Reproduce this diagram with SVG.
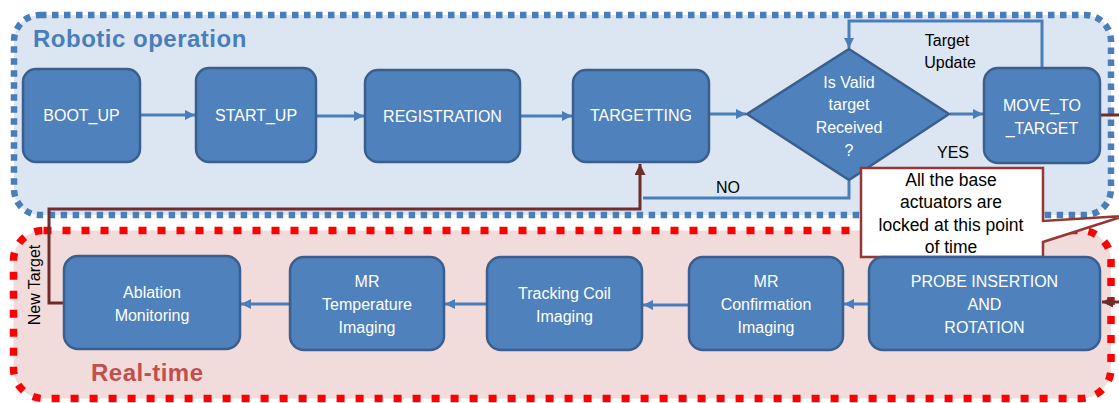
<svg xmlns="http://www.w3.org/2000/svg" width="1119" height="403" viewBox="0 0 1119 403">
<defs>
<style>
.node{fill:#4F81BD;stroke:#3A5F8C;stroke-width:2.5}
.nt{font-family:"Liberation Sans",Arial,sans-serif;font-size:16px;fill:#FFFFFF;text-anchor:middle}
.lbl{font-family:"Liberation Sans",Arial,sans-serif;font-size:16px;fill:#000000;text-anchor:middle}
.call{font-family:"Liberation Sans",Arial,sans-serif;font-size:17.5px;fill:#000000;text-anchor:middle}
.title{font-family:"Liberation Sans",Arial,sans-serif;font-size:24px;font-weight:bold;letter-spacing:0.5px}
.blue{fill:none;stroke:#4A7EBB;stroke-width:3}
.dred{fill:none;stroke:#6E2C2A;stroke-width:3}
</style>
<marker id="ab" viewBox="0 0 10 10" refX="10" refY="5" markerWidth="10" markerHeight="10" markerUnits="userSpaceOnUse" orient="auto">
<path d="M0,0 L10,5 L0,10 z" fill="#4A7EBB"/>
</marker>
<marker id="ar" viewBox="0 0 10 10" refX="10" refY="5" markerWidth="11" markerHeight="11" markerUnits="userSpaceOnUse" orient="auto">
<path d="M0,0 L10,5 L0,10 z" fill="#6E2C2A"/>
</marker>
</defs>
<rect width="1119" height="403" fill="#FFFFFF"/>
<g id="robotic-operation">
<rect x="14" y="15" width="1097" height="200" rx="26" fill="#DCE6F2" stroke="#4A7EBB" stroke-width="6.5" stroke-dasharray="6.5 5.5"/>
<text class="title" x="33" y="47" fill="#4A7EBB">Robotic operation</text>
</g>
<g id="real-time">
<rect x="13.5" y="230.5" width="1097.5" height="168" rx="30" fill="#F2DCDB" stroke="#FF0000" stroke-width="7.5" stroke-dasharray="8 11"/>
<text class="title" x="91" y="381" fill="#C0504D">Real-time</text>
</g>
<g id="connectors">
<line class="blue" x1="141" y1="115" x2="195" y2="115" marker-end="url(#ab)"/>
<line class="blue" x1="317" y1="116" x2="364" y2="116" marker-end="url(#ab)"/>
<line class="blue" x1="521" y1="116" x2="572" y2="116" marker-end="url(#ab)"/>
<line class="blue" x1="710" y1="114" x2="746" y2="114" marker-end="url(#ab)"/>
<line class="blue" x1="950" y1="114" x2="983" y2="114" marker-end="url(#ab)"/>
<path class="blue" d="M1042,67 V21 H849 V48" marker-end="url(#ab)"/>
<path class="blue" d="M849,181 V198 H643"/>
<path class="dred" d="M64,303 H49 V209 H640 V164" marker-end="url(#ar)"/>
<path class="dred" d="M1101,115 H1126 V302 H1102" marker-end="url(#ar)"/>
<line class="blue" x1="868" y1="304" x2="844" y2="304" marker-end="url(#ab)"/>
<line class="blue" x1="688" y1="305" x2="643" y2="305" marker-end="url(#ab)"/>
<line class="blue" x1="486" y1="304" x2="445" y2="304" marker-end="url(#ab)"/>
<line class="blue" x1="289" y1="304" x2="241" y2="304" marker-end="url(#ab)"/>
<text class="lbl" x="947" y="46">Target</text>
<text class="lbl" x="950" y="68">Update</text>
<text class="lbl" x="728" y="193">NO</text>
<text class="lbl" x="953" y="158">YES</text>
<text class="lbl" transform="translate(40,285) rotate(-90)">New Target</text>
</g>
<g id="boot-up">
<rect class="node" x="23" y="69" width="117" height="93" rx="13"/>
<text class="nt" x="81.5" y="121">BOOT_UP</text>
</g>
<g id="start-up">
<rect class="node" x="196" y="68" width="120" height="94" rx="13"/>
<text class="nt" x="256" y="121">START_UP</text>
</g>
<g id="registration">
<rect class="node" x="365" y="70" width="155" height="92" rx="13"/>
<text class="nt" x="442.5" y="122">REGISTRATION</text>
</g>
<g id="targetting">
<rect class="node" x="573" y="70" width="136" height="92" rx="13"/>
<text class="nt" x="641" y="121">TARGETTING</text>
</g>
<g id="valid-target">
<polygon class="node" points="849,49 949,114 849,180 747,114"/>
<text class="nt" x="849" y="88">Is Valid</text>
<text class="nt" x="849" y="110">target</text>
<text class="nt" x="849" y="133">Received</text>
<text class="nt" x="849" y="156">?</text>
</g>
<g id="move-to-target">
<rect class="node" x="984" y="68" width="116" height="95" rx="14"/>
<text class="nt" x="1042" y="111">MOVE_TO</text>
<text class="nt" x="1042" y="134">_TARGET</text>
</g>
<g id="callout">
<path d="M861,168 H1043 V221 L1124,216 L1043,242 V257 H861 Z" fill="#FFFFFF" stroke="#953735" stroke-width="2.5"/>
<text class="call" x="951" y="186">All the base</text>
<text class="call" x="951" y="208">actuators are</text>
<text class="call" x="951" y="231">locked at this point</text>
<text class="call" x="951" y="253">of time</text>
</g>
<g id="ablation-monitoring">
<rect class="node" x="64" y="256" width="176" height="93" rx="14"/>
<text class="nt" x="152" y="298">Ablation</text>
<text class="nt" x="152" y="321">Monitoring</text>
</g>
<g id="mr-temperature">
<rect class="node" x="290" y="257" width="154" height="93" rx="14"/>
<text class="nt" x="367" y="287">MR</text>
<text class="nt" x="367" y="310">Temperature</text>
<text class="nt" x="367" y="333">Imaging</text>
</g>
<g id="tracking-coil">
<rect class="node" x="487" y="257" width="155" height="93" rx="14"/>
<text class="nt" x="564.5" y="299">Tracking Coil</text>
<text class="nt" x="564.5" y="322">Imaging</text>
</g>
<g id="mr-confirmation">
<rect class="node" x="689" y="257" width="154" height="93" rx="14"/>
<text class="nt" x="766" y="287">MR</text>
<text class="nt" x="766" y="310">Confirmation</text>
<text class="nt" x="766" y="333">Imaging</text>
</g>
<g id="probe-insertion">
<rect class="node" x="869" y="257" width="231" height="93" rx="14"/>
<text class="nt" x="984.5" y="287">PROBE INSERTION</text>
<text class="nt" x="984.5" y="310">AND</text>
<text class="nt" x="984.5" y="333">ROTATION</text>
</g>
</svg>
